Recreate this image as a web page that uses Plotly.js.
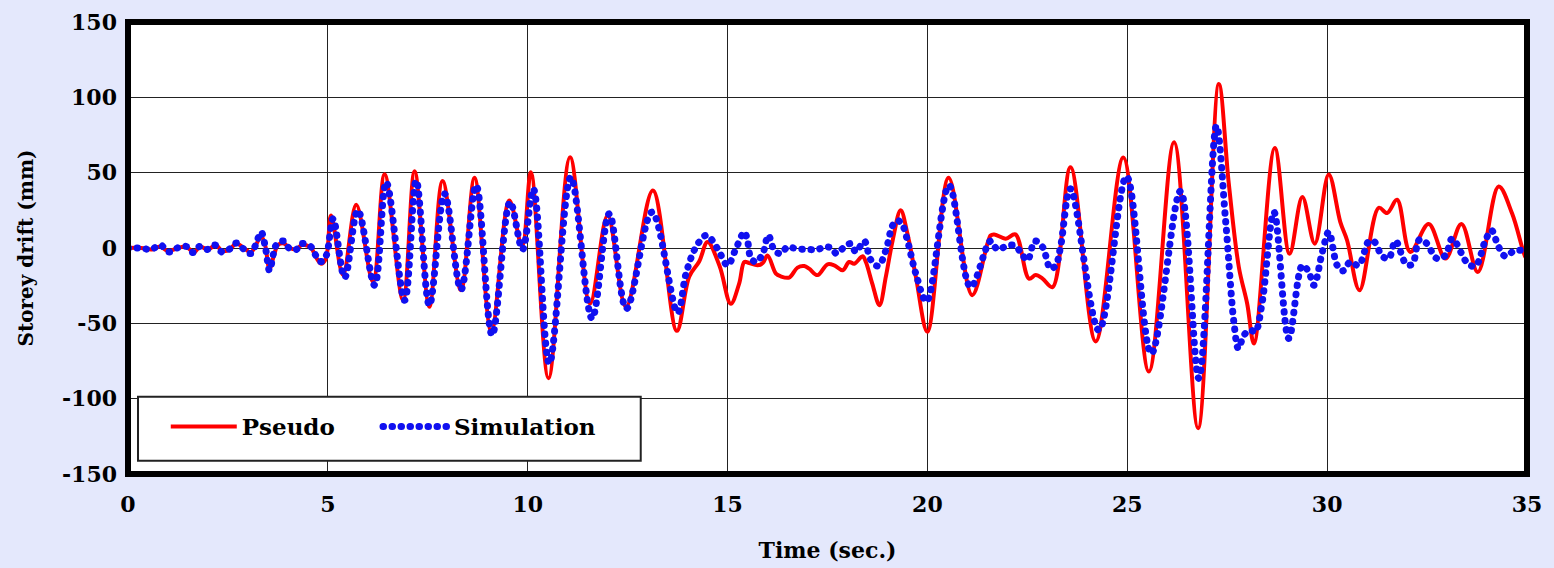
<!DOCTYPE html>
<html>
<head>
<meta charset="utf-8">
<script src="https://cdn.plot.ly/plotly-3.0.1.min.js"></script>
<style>
html,body{margin:0;padding:0;background:#e4e8fc;}
#chart{width:1554px;height:568px;}
</style>
</head>
<body>
<div id="chart"></div>
<script>
// Pseudo (red) series: time (s) and storey drift (mm)
const pseudoTime = [0,0.33,0.6,0.8,1.0,1.25,1.45,1.65,1.8,2.0,2.2,2.35,2.55,2.7,2.9,3.07,3.2,3.33,3.43,3.54,3.66,3.75,3.9,4.05,4.2,4.35,4.58,4.7,4.83,4.95,
  5.08,5.38,5.71,6.13,6.42,6.88,7.17,7.54,7.87,8.33,8.67,9.09,9.54,9.86,10.08,10.52,11.06,11.56,12.0,12.46,13.13,13.73,14.04,14.29,14.5,14.8,15.08,15.29,15.42,15.54,15.75,15.88,16.0,16.21,16.33,16.54,16.75,16.92,17.04,17.25,17.5,17.67,17.88,18.04,18.17,18.38,18.46,18.62,18.8,18.96,19.13,19.33,19.5,19.71,20.0,20.53,21.12,21.58,21.67,21.96,22.2,22.54,22.71,22.88,23.13,23.58,24.21,24.9,25.54,26.17,26.77,27.29,27.54,27.79,28.0,28.17,28.69,29.06,29.38,29.69,30.04,30.33,30.5,30.81,31.29,31.5,31.75,32.08,32.54,32.96,33.36,33.77,34.29,34.63,34.96,35];
const pseudoDrift = [0,0,-1,1,-2,0,1,-3,1,-1,2,-2,-1,3,0,-3,2,8,2,-14,-4,2,3,0,-1,2,0,-6,-10.5,-7,
  21.6,-18,28.7,-22.5,49,-34.7,51,-39,44.4,-28,46.6,-55.6,31.6,1,50.3,-86.5,60.3,-36.9,21.6,-39,38.2,-55,-19,-9,4,-12,-37,-23.6,-9.3,-10,-11.5,-10,-5,-17,-18.8,-19.6,-13,-12,-13.7,-18,-10.8,-11.5,-14.8,-9.3,-10.4,-5.5,-9.3,-23.6,-38,-19,5,25,9.5,-19,-55.6,46.6,-31.3,8.3,9,6.2,9,-20.3,-18,-20.3,-26,53.6,-62,60,-82,70.2,-119.6,108.8,42.6,-12.6,-37,-63.4,66.4,-3.8,33.8,2.9,48.8,17.2,5,-28,26.7,23.2,32,-2.6,16,-7,16,-16,40.8,22.7,-6,-7];

// Simulation (blue) series
const simTime = [0,0.08,0.33,0.58,0.81,1.02,1.23,1.46,1.63,1.79,1.98,2.18,2.35,2.54,2.71,2.88,3.07,3.19,3.33,3.44,3.54,3.64,3.71,3.9,4.04,4.21,4.33,4.58,4.71,4.83,4.96,
  5.13,5.42,5.75,6.17,6.46,6.92,7.21,7.54,7.92,8.33,8.71,9.11,9.56,9.87,10.14,10.54,11.08,11.61,12.04,12.47,13.11,13.75,13.96,14.21,14.46,14.62,14.8,15.0,15.21,15.42,15.5,15.58,15.71,15.88,16.02,16.17,16.33,16.5,16.71,17.04,17.25,17.42,17.58,17.73,17.9,18.08,18.21,18.42,18.58,18.77,18.96,19.13,19.25,19.38,19.5,19.71,19.98,20.54,21.08,21.58,21.75,21.96,22.17,22.33,22.5,22.69,22.88,23.08,23.21,23.33,23.58,24.29,24.98,25.6,26.33,26.79,27.23,27.46,27.67,27.78,27.92,28.08,28.2,28.37,28.67,29.04,29.38,29.54,29.67,29.88,30.04,30.25,30.39,30.58,30.79,31.04,31.17,31.38,31.54,31.71,31.98,32.13,32.31,32.48,32.75,32.96,33.13,33.52,33.71,33.96,34.11,34.29,34.46,34.67,34.83,35];
const simDrift = [0,0,0,-1,2,-2.6,0,1,-3,1,-1,2,-2.6,-0.7,3.3,-0.4,-3.7,1.8,10.6,0,-15,-3.7,2,4.6,-0.4,-1,2.9,0.7,-5.5,-9,-5,
  19.4,-19.6,25,-24.7,43.7,-34.7,44.8,-38,36,-27.6,41.5,-57.8,30.5,-1,39.3,-76.6,47,-46.8,22.7,-40.2,23.8,-43,-17,0.7,8.4,5,-3,-11.5,-0.4,10.6,4.6,-6.4,-9.3,-3.7,8.4,-1.5,-3.7,0.7,-0.4,-1,-1,0.7,0.2,-3.7,0.2,2.9,-2.6,4.6,-7.7,-12,-1.5,15,18.3,15,5,-17,-35.5,41.5,-25.8,4.6,-1,1,1.8,-2.6,-8.2,4.6,0.7,-13.7,-11.5,0.7,39.3,-54.5,47.5,-70,37.7,-86.5,81.2,18,-50,-66.7,-57.8,-54.5,-55.6,-36.9,23.8,-60,-11.5,-15.9,-24.7,-2.6,10.6,-11.5,-15.2,-9.3,-11.5,4.4,4.4,-5.5,-7,4.6,-10.8,-10.8,5.5,3.3,-7,-4.9,6.2,-10.4,-12,5,11.7,0.7,-5.5,-2,-1.5,-2];

const xTicks = [0,5,10,15,20,25,30,35];
const yTicks = [-150,-100,-50,0,50,100,150];
const seriesNames = ['Pseudo','Simulation'];

const serif = 'DejaVu Serif';
const traces = [
  {x: pseudoTime, y: pseudoDrift, name: seriesNames[0], type: 'scatter', mode: 'lines', legend: 'legend',
   line: {color: '#ff0000', width: 4, shape: 'spline', smoothing: 1}},
  {x: simTime, y: simDrift, name: seriesNames[1], type: 'scatter', mode: 'lines', legend: 'legend2',
   line: {color: '#1010f0', width: 7, shape: 'spline', smoothing: 1, dash: '0.5px,8.5px'}}
];

const legendBase = {
  orientation: 'h', y: 0.105, xanchor: 'left', yanchor: 'middle',
  bgcolor: 'rgba(0,0,0,0)', borderwidth: 0,
  font: {family: serif, size: 23, weight: 'bold', color: '#000'},
  itemwidth: 66
};

const layout = {
  width: 1554, height: 568,
  paper_bgcolor: '#e4e8fc', plot_bgcolor: '#ffffff',
  margin: {l: 128, r: 27, t: 22, b: 94},
  showlegend: true,
  font: {family: serif, color: '#000', weight: 'bold'},
  xaxis: {
    range: [0, 35], tickvals: xTicks, ticktext: xTicks.map(String),
    showgrid: true, gridcolor: '#222', gridwidth: 1, zeroline: false,
    showline: false, ticks: '', ticklabelstandoff: 15,
    tickfont: {family: serif, size: 22, weight: 'bold', color: '#000'},
    title: {text: 'Time (sec.)', font: {family: serif, size: 22, weight: 'bold', color: '#000'}, standoff: 26}
  },
  yaxis: {
    range: [-150, 150], tickvals: yTicks, ticktext: yTicks.map(String),
    showgrid: true, gridcolor: '#222', gridwidth: 1, zeroline: false,
    showline: false, ticks: '', ticklabelstandoff: 10,
    tickfont: {family: serif, size: 22, weight: 'bold', color: '#000'},
    title: {text: 'Storey drift (mm)', font: {family: serif, size: 20, weight: 'bold', color: '#000'}, standoff: 22}
  },
  legend: Object.assign({}, legendBase, {x: 0.027}),
  legend2: Object.assign({}, legendBase, {x: 0.1787}),
  shapes: [
    {type: 'rect', xref: 'paper', yref: 'paper', x0: 0.00715, x1: 0.3665, y0: 0.0294, y1: 0.171,
     fillcolor: '#ffffff', line: {color: '#222', width: 2}, layer: 'above'},
    {type: 'rect', xref: 'paper', yref: 'paper', x0: 0, x1: 1, y0: 0, y1: 1,
     line: {color: '#000', width: 6}, layer: 'above'}
  ]
};

Plotly.newPlot('chart', traces, layout, {displayModeBar: false, staticPlot: true}).then(function(gd){
  const tr = gd.querySelectorAll('.scatterlayer .trace');
  if (tr[1]) tr[1].querySelectorAll('path.js-line').forEach(p => p.style.strokeLinecap = 'round');
  gd.querySelectorAll('.legend2 .traces path, .infolayer g.legend2 path').forEach(p => { p.style.strokeLinecap = 'round'; });
});
</script>
</body>
</html>
